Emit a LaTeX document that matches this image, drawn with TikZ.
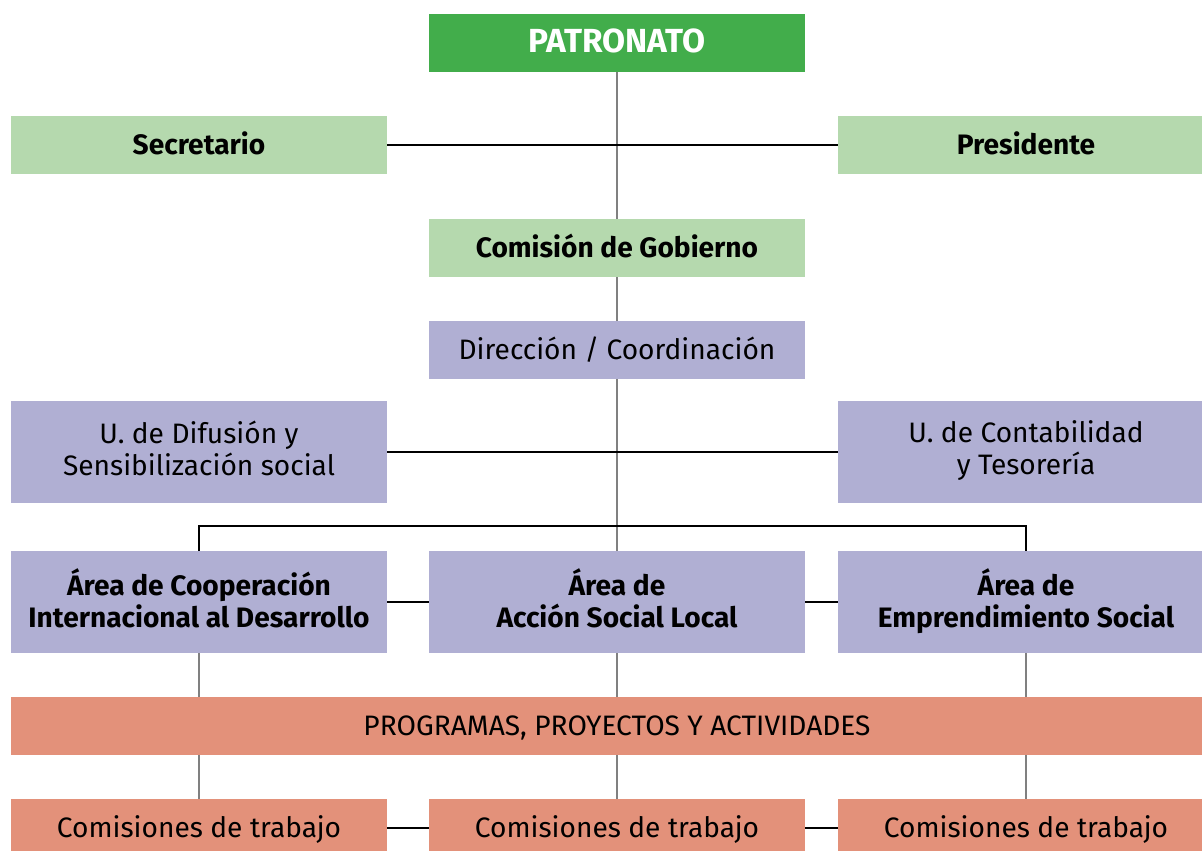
\documentclass[tikz,border=0pt]{standalone}
\usepackage{fontspec}
\setmainfont{Fira Sans}
\usetikzlibrary{positioning}
\definecolor{verdeosc}{HTML}{42AD4B}
\definecolor{verdecl}{HTML}{B5D9AE}
\definecolor{lila}{HTML}{B0AFD3}
\definecolor{salmon}{HTML}{E3917A}
\tikzset{
    caja/.style={minimum width=7.52cm,minimum height=1.16cm,inner sep=0pt,align=center,
        font=\fontsize{16}{18.2}\selectfont,
        execute at begin node=\rule{0pt}{16pt},
        execute at end node=\rule[-4.8pt]{0pt}{4.8pt}},
    caja alta/.style={caja,minimum height=2.04cm},
    negrita/.style={font=\fontsize{16}{18.2}\selectfont\bfseries},
    eje/.style={draw=gray,line width=1.1pt},
    rama/.style={draw=black,line width=0.6pt}
}

\begin{document}
\begin{tikzpicture}[x=0.02cm,y=-0.02cm]
        \clip (0,0) rectangle (1202,850);

        % cabecera
        \node[caja,fill=verdeosc,text=white,font=\fontsize{19}{22}\selectfont\bfseries] (PAT) at (617,43) {PATRONATO};
        \node[caja,fill=verdecl,negrita] (SEC) at (199,145) {Secretario};
        \node[caja,fill=verdecl,negrita] (PRE) at (1026,145) {Presidente};
        \node[caja,fill=verdecl,negrita] (CG) at (617,248) {Comisión de Gobierno};

        % direccion y unidades
        \node[caja,fill=lila] (DIR) at (617,350) {Dirección / Coordinación};
        \node[caja alta,fill=lila] (UD) at (199,452) {U. de Difusión y\\Sensibilización social};
        \node[caja alta,fill=lila] (UC) at (1026,452) {U. de Contabilidad\\y Tesorería};

        % areas
        \node[caja alta,fill=lila,negrita] (A1) at (199,602) {Área de Cooperación\\Internacional al Desarrollo};
        \node[caja alta,fill=lila,negrita] (A2) at (617,602) {Área de\\Acción Social Local};
        \node[caja alta,fill=lila,negrita] (A3) at (1026,602) {Área de\\Emprendimiento Social};

        % programas y comisiones
        \node[caja,fill=salmon,minimum width=23.98cm,anchor=west] (PPA) at (11,726) {};
        \node[caja,minimum width=0pt] at (617,726) {PROGRAMAS, PROYECTOS Y ACTIVIDADES};
        \node[caja,fill=salmon] (C1) at (199,828) {Comisiones de trabajo};
        \node[caja,fill=salmon] (C2) at (617,828) {Comisiones de trabajo};
        \node[caja,fill=salmon] (C3) at (1026,828) {Comisiones de trabajo};

        % conectores
        \draw[eje] (PAT) -- (CG);
        \draw[rama] (SEC) -- (PRE);
        \draw[eje] (CG) -- (DIR);
        \draw[eje] (DIR) -- (A2);
        \draw[rama] (UD) -- (UC);
        \coordinate (B1) at (199,526);
        \coordinate (B3) at (1026,526);
        \draw[rama] (A1.north) -- (B1) -- (B3) -- (A3.north);
        \draw[rama] (A1) -- (A2);
        \draw[rama] (A2) -- (A3);
        \foreach \n in {1,2,3} {
            \draw[eje] (A\n) -- (A\n |- PPA.north);
            \draw[eje] (C\n |- PPA.south) -- (C\n);
        }
        \draw[rama] (C1) -- (C2);
        \draw[rama] (C2) -- (C3);
    \end{tikzpicture}
\end{document}
